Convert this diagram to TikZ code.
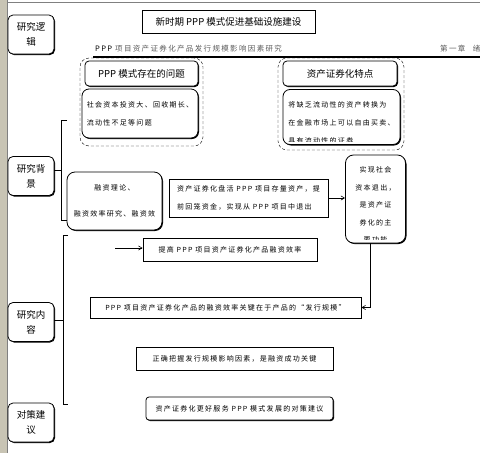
\documentclass[tikz,border=0pt]{standalone}
\usepackage{fontspec}
\setmainfont{Noto Sans CJK SC}
\newfontfamily\spaced[LetterSpace=18]{Noto Sans CJK SC}
\usetikzlibrary{shadows, arrows, positioning}
\usepackage{xcolor}
\definecolor{stripgray}{RGB}{200,196,180}
\definecolor{headgray}{RGB}{95,95,95}
\tikzstyle{arrow}     = [semithick,->,>=angle 60]
\tikzstyle{shade}     = [drop shadow={shadow xshift=1pt,shadow yshift=-1pt,opacity=1,fill=black}]
\tikzstyle{sidebox}   = [thick, draw, fill=white, shade, rounded corners=5pt, minimum width=46pt, minimum height=39pt, inner sep=0pt, align=center, font=\fontsize{9.5}{15}\selectfont]
\tikzstyle{titlebox}  = [thick, draw, fill=white, shade, minimum height=23pt, inner sep=0pt, font=\fontsize{9.5}{12}\selectfont]
\tikzstyle{headbox}   = [thick, draw, fill=white, shade, rounded corners=4pt, minimum height=25pt, inner sep=0pt, font=\fontsize{9.5}{12}\selectfont]
\tikzstyle{textbox}   = [thick, draw, fill=white, shade, rounded corners=7pt, inner sep=0pt, align=left, font=\spaced\fontsize{7}{18}\selectfont]
\tikzstyle{flatbox}   = [thick, draw, fill=white, shade, inner sep=0pt, align=left, font=\spaced\fontsize{7}{18}\selectfont]
\tikzstyle{groupbox}  = [densely dashed, draw, rounded corners=9pt, inner sep=0pt]
\tikzstyle{bracket}   = [semithick]
\tikzstyle{small}     = [inner sep=0pt, align=left, font=\spaced\fontsize{7}{18}\selectfont]

\begin{document}
\begin{tikzpicture}[x=1pt,y=-1pt]
\useasboundingbox[fill=white] (0,0) rectangle (480,453);

% page frame
\fill[stripgray] (0,0) rectangle (7,453);
\draw[gray] (7,0) -- (7,453);
\draw[gray] (7,2) -- (480,2);

% left column
\node[sidebox] (logic)   at (31,34.5)  {研究逻\\辑};
\node[sidebox] (bg)      at (31,176)   {研究背\\景};
\node[sidebox] (content) at (31,322)   {研究内\\容};
\node[sidebox] (advice)  at (31,422.5) {对策建\\议};

% title and running head
\node[titlebox, minimum width=173pt] (title) at (228.5,21.5) {新时期 PPP 模式促进基础设施建设};
\node[anchor=west, inner sep=0pt, text=headgray, font=\spaced\fontsize{7.5}{9}\selectfont] (running) at (95,49) {\textcolor{black}{PPP} 项目资产证券化产品发行规模影响因素研究};
\node[anchor=west, inner sep=0pt, text=headgray, font=\spaced\fontsize{7.5}{9}\selectfont] (chapter) at (440,49) {第一章\quad 绪};
\draw[line width=1.5pt] (93,57) -- (480,57);

% problems of PPP
\node[groupbox, minimum width=123pt, minimum height=88pt] (probgroup) at (141.5,102) {};
\node[headbox, minimum width=113pt] (probtitle) at (141.5,73.5) {PPP 模式存在的问题};
\node[textbox, minimum width=116pt, minimum height=49pt] (probtext) at (140,113.5) {社会资本投资大、回收期长、\\流动性不足等问题};

% features of securitization
\node[groupbox, minimum width=126pt, minimum height=92pt] (featgroup) at (341,104) {};
\node[headbox, minimum width=114pt] (feattitle) at (340,73.5) {资产证券化特点};
\node[textbox, minimum width=117pt, minimum height=55pt] (feattext) at (341.5,117) {};
\begin{scope}
\clip (283,90) rectangle (400,141);
\node[small] at (341.5,123) {将缺乏流动性的资产转换为\\在金融市场上可以自由买卖、\\具有流动性的证券};
\end{scope}

% background
\draw[bracket] (67,120) -- (61,120) -- (61,220) -- (67,220);
\coordinate (bgjoin) at (61,170);
\draw[bracket] (bg.east |- bgjoin) -- (bgjoin);
\node[textbox, rounded corners=8pt, minimum width=95pt, minimum height=58pt, align=center, font=\spaced\fontsize{7}{26}\selectfont] (theory) at (114.5,201) {融资理论、\\融资效率研究、融资效};
\node[flatbox, minimum width=159pt, minimum height=38pt] (exit) at (248.5,198) {资产证券化盘活 PPP 项目存量资产，提\\前回笼资金，实现从 PPP 项目中退出};
\node[textbox, rounded corners=8pt, minimum width=60pt, minimum height=88pt] (func) at (375.5,199) {};
\begin{scope}
\clip (346,156) rectangle (405,239.5);
\node[small, align=center, font=\spaced\fontsize{7}{17.5}\selectfont] at (375.5,205) {实现社会\\资本退出，\\是资产证\\券化的主\\要功能};
\end{scope}
\draw[arrow] (exit.east) -- (func.west |- exit.east);

% research content
\draw[bracket] (68,235) -- (63,235) -- (63,404) -- (68,404);
\coordinate (ctjoin) at (63,320);
\draw[bracket] (content.east |- ctjoin) -- (ctjoin);
\coordinate (lead) at (115,248);
\node[flatbox, minimum width=174pt, minimum height=23pt] (raise) at (230,249.5) {提高 PPP 项目资产证券化产品融资效率};
\draw[arrow] (lead) -- (raise.west |- lead);
\node[flatbox, minimum width=271pt, minimum height=21pt] (scale) at (225.5,307.5) {PPP 项目资产证券化产品的融资效率关键在于产品的“发行规模”};
\draw[arrow] ([xshift=-5pt]func.south) |- (scale.east);
\node[flatbox, minimum width=197pt, minimum height=23pt] (key) at (234.5,358.5) {正确把握发行规模影响因素，是融资成功关键};
\node[flatbox, rounded corners=3pt, minimum width=187pt, minimum height=23pt] (measure) at (239.5,408.5) {资产证券化更好服务 PPP 模式发展的对策建议};

\end{tikzpicture}
\end{document}
